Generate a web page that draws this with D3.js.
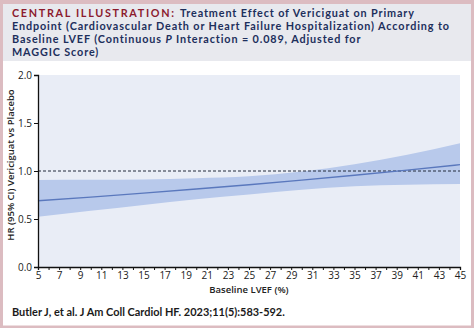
<!DOCTYPE html>
<html>
<head>
<meta charset="utf-8">
<script src="https://cdn.jsdelivr.net/npm/d3@7"></script>
<style>
  html, body { margin: 0; padding: 0; background: #ffffff; }
  svg { display: block; }
</style>
</head>
<body>
<div id="chart"></div>
<script>
// chart data
var lvef = [5, 10, 15, 20, 25, 30, 35, 40, 45];
var hr = [0.69, 0.728, 0.769, 0.812, 0.857, 0.905, 0.955, 1.009, 1.066];
var ciUpper = [0.906, 0.908, 0.912, 0.925, 0.945, 0.995, 1.07, 1.17, 1.29];
var ciLower = [0.524, 0.585, 0.645, 0.705, 0.755, 0.805, 0.84, 0.856, 0.865];
var xTicks = d3.range(5, 46, 1);
var xLabels = d3.range(5, 46, 2);
var yTicks = [0, 0.5, 1.0, 1.5, 2.0];

var titleLines = [
  "Treatment Effect of Vericiguat on Primary",
  "Endpoint (Cardiovascular Death or Heart Failure Hospitalization) According to",
  "Baseline LVEF (Continuous ",
  "MAGGIC Score)"
];

var svgWidth = 474;
var svgHeight = 328;

var svg = d3.select("#chart")
  .append("svg")
  .attr("width", svgWidth)
  .attr("height", svgHeight);

// pink outer frame
svg.append("rect")
  .attr("x", 0).attr("y", 0)
  .attr("width", svgWidth).attr("height", svgHeight)
  .attr("fill", "#dcbcc1");

svg.append("rect")
  .attr("x", 3).attr("y", 4)
  .attr("width", svgWidth - 6).attr("height", svgHeight - 6.5)
  .attr("fill", "#ffffff");

// header band
svg.append("rect")
  .attr("x", 3).attr("y", 4)
  .attr("width", svgWidth - 6).attr("height", 57)
  .attr("fill", "#e8e9ee");

var titleFont = "Lato, 'Open Sans', sans-serif";
var navy = "#1d2f5c";
var titleSize = 10.8;
var lineGap = 13;

var title = svg.append("g")
  .attr("font-family", titleFont)
  .attr("font-weight", 700)
  .attr("font-size", titleSize + "px");

var t1 = title.append("text").attr("x", 12).attr("y", 17);
var red = t1.append("tspan").attr("fill", "#8c1b2e").text("CENTRAL ILLUSTRATION: ");
t1.append("tspan").attr("fill", navy).text(titleLines[0]);

var t2 = title.append("text").attr("x", 12).attr("y", 17 + lineGap).attr("fill", navy).text(titleLines[1]);

var t3 = title.append("text").attr("x", 12).attr("y", 17 + 2 * lineGap).attr("fill", navy);
t3.append("tspan").text(titleLines[2]);
t3.append("tspan").attr("font-style", "italic").text("P");
t3.append("tspan").text(" Interaction = 0.089, Adjusted for");

title.append("text").attr("x", 12).attr("y", 17 + 3 * lineGap).attr("fill", navy).text(titleLines[3]);

// spread the letters so the longest line spans the width seen in the figure
var natural = t2.node().getComputedTextLength();
if (natural > 0) {
  var ls = (438 - natural) / titleLines[1].length;
  title.attr("letter-spacing", ls.toFixed(3) + "px");
  red.attr("letter-spacing", (ls + 0.8).toFixed(3) + "px");
}

// plot area
var margin = { left: 38, right: 14, top: 75, bottom: 61 };
var width = svgWidth - margin.left - margin.right;
var height = svgHeight - margin.top - margin.bottom;

var chartGroup = svg.append("g")
  .attr("transform", `translate(${margin.left}, ${margin.top})`);

var xLinearScale = d3.scaleLinear().domain([5, 45]).range([0, width]);
var yLinearScale = d3.scaleLinear().domain([0, 2]).range([height, 0]);

chartGroup.append("rect")
  .attr("x", 0).attr("y", 0)
  .attr("width", width).attr("height", height)
  .attr("fill", "#e9edf6");

var rows = lvef.map(function(v, i) {
  return { x: v, hr: hr[i], lo: ciLower[i], hi: ciUpper[i] };
});

var band = d3.area()
  .x(d => xLinearScale(d.x))
  .y0(d => yLinearScale(d.lo))
  .y1(d => yLinearScale(d.hi))
  .curve(d3.curveMonotoneX);

chartGroup.append("path")
  .datum(rows)
  .attr("d", band)
  .attr("fill", "#b8c9eb");

// reference line at HR = 1
chartGroup.append("line")
  .attr("x1", 0).attr("x2", width)
  .attr("y1", yLinearScale(1)).attr("y2", yLinearScale(1))
  .attr("stroke", "#222a3a")
  .attr("stroke-width", 1)
  .attr("stroke-dasharray", "3,2");

var hrLine = d3.line()
  .x(d => xLinearScale(d.x))
  .y(d => yLinearScale(d.hr))
  .curve(d3.curveMonotoneX);

chartGroup.append("path")
  .datum(rows)
  .attr("d", hrLine)
  .attr("fill", "none")
  .attr("stroke", "#5a78bd")
  .attr("stroke-width", 1.4);

// axes
var axisFont = "'Open Sans', 'Noto Sans', sans-serif";

var bottomAxis = d3.axisBottom(xLinearScale)
  .tickValues(xTicks)
  .tickSize(3)
  .tickFormat(d => (xLabels.indexOf(d) >= 0 ? d : ""));

var xAxis = chartGroup.append("g")
  .attr("transform", `translate(0, ${height})`)
  .call(bottomAxis);

xAxis.select(".domain").attr("stroke", "#111").attr("stroke-width", 1.3);
xAxis.selectAll(".tick line").attr("stroke", "#111").attr("stroke-width", 1);
xAxis.selectAll("text")
  .attr("font-family", axisFont)
  .attr("font-size", "10px")
  .attr("fill", "#222")
  .attr("dy", "0.65em")
  .attr("y", 5);

var leftAxis = d3.axisLeft(yLinearScale)
  .tickValues(yTicks)
  .tickSize(4)
  .tickFormat(d3.format(".1f"));

var yAxis = chartGroup.append("g").call(leftAxis);
yAxis.select(".domain").attr("stroke", "#111").attr("stroke-width", 1.3);
yAxis.selectAll(".tick line").attr("stroke", "#111");
yAxis.selectAll("text")
  .attr("font-family", axisFont)
  .attr("font-size", "10px")
  .attr("fill", "#222")
  .attr("x", -6);

// axis titles
chartGroup.append("text")
  .attr("x", width / 2)
  .attr("y", height + 26)
  .attr("text-anchor", "middle")
  .attr("font-family", axisFont)
  .attr("font-weight", 600)
  .attr("font-size", "9.5px")
  .attr("fill", "#222")
  .text("Baseline LVEF (%)");

svg.append("text")
  .attr("transform", "translate(14, 165) rotate(-90)")
  .attr("text-anchor", "middle")
  .attr("font-family", axisFont)
  .attr("font-weight", 600)
  .attr("font-size", "9.5px")
  .attr("fill", "#222")
  .text("HR (95% CI) Vericiguat vs Placebo");

// citation
var cite = svg.append("text")
  .attr("x", 12)
  .attr("y", 316)
  .attr("font-family", titleFont)
  .attr("font-weight", 700)
  .attr("font-size", "12px")
  .attr("fill", "#1a1a1a")
  .text("Butler J, et al. J Am Coll Cardiol HF. 2023;11(5):583-592.");

var citeLen = cite.node().getComputedTextLength();
if (citeLen > 0) {
  cite.attr("font-size", (12 * 273 / citeLen).toFixed(2) + "px");
}
</script>
</body>
</html>
